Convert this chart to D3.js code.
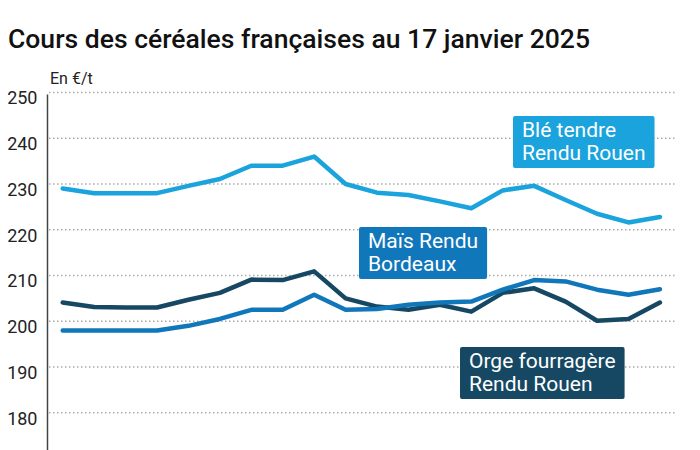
<!DOCTYPE html>
<html><head><meta charset="utf-8">
<script src="https://cdn.jsdelivr.net/npm/d3@7"></script>
<style>body{margin:0;background:#fff;font-family:Roboto,"Noto Sans",sans-serif;}</style>
</head><body><svg id="c" width="700" height="450"></svg>
<script>
const title = "Cours des céréales françaises au 17 janvier 2025";
const unitLabel = "En €/t";
const weeks = d3.range(1, 21);
const ble  = [229,228,228,228,229.6,231.1,234,234,236,230,228.1,227.6,226.2,224.7,228.6,229.6,226.5,223.5,221.6,222.8];
const mais = [198,198,198,198,199,200.5,202.5,202.5,205.8,202.5,202.7,203.6,204.1,204.3,206.9,209,208.7,206.9,205.8,207];
const orge = [204.1,203.1,203,203,204.7,206.2,209.1,209,210.9,205,203.2,202.5,203.6,202.1,206.2,207.2,204.3,200.1,200.5,204.1];
const yTicks = [180,190,200,210,220,230,240,250];
const seriesNames = [["Blé tendre","Rendu Rouen"],["Maïs Rendu","Bordeaux"],["Orge fourragère","Rendu Rouen"]];
const colors = ["#1aa3dd","#1177bb","#164864"];

const svg = d3.select("#c");
const x = d3.scaleLinear().domain([1,20]).range([62.7,659.9]);
const y = d3.scaleLinear().domain([170,250]).range([458.5,92.5]);

svg.append("text").attr("x",8).attr("y",48).attr("font-size",26).attr("font-weight",500)
  .attr("fill","#111").attr("textLength",582).attr("lengthAdjust","spacingAndGlyphs").text(title);
svg.append("text").attr("x",50).attr("y",84).attr("font-size",16).attr("fill","#222").text(unitLabel);

// gridlines
svg.append("g").selectAll("line").data(yTicks).join("line")
  .attr("x1",49).attr("x2",675).attr("y1",d=>y(d)).attr("y2",d=>y(d))
  .attr("stroke","#aaa").attr("stroke-width",1.5).attr("stroke-dasharray","1.5,2.5");

const yAxis = d3.axisLeft(y).tickValues(yTicks).tickSize(0).tickPadding(10);
const ga = svg.append("g").attr("transform","translate(47.5,0)").call(yAxis);
ga.select(".domain").remove();
ga.selectAll("text").attr("font-size",18).attr("fill","#222").attr("font-family","Roboto").attr("dy","0.63em").attr("x",-10);
svg.append("line").attr("x1",47.5).attr("x2",47.5).attr("y1",y(250)+2).attr("y2",450)
  .attr("stroke","#444").attr("stroke-width",1.5);

const line = d3.line().x((d,i)=>x(weeks[i])).y(d=>y(d));
[[orge,2],[mais,1],[ble,0]].forEach(([s,ci])=>{
  svg.append("path").datum(s).attr("d",line).attr("fill","none")
    .attr("stroke",colors[ci]).attr("stroke-width",4.5).attr("stroke-linejoin","round").attr("stroke-linecap","round");
});

// label boxes (annotation positions in pixels)
const labelPos = [[522,137],[368,248],[469,368]];
labelPos.forEach(([tx,ty],i)=>{
  const g = svg.append("g");
  const t = g.append("text").attr("x",tx).attr("y",ty).attr("font-size",21).attr("fill","#fff");
  seriesNames[i].forEach((ln,j)=>t.append("tspan").attr("x",tx).attr("dy", j===0?0:23).text(ln));
  const bb = t.node().getBBox();
  g.insert("rect","text").attr("x",bb.x-9).attr("y",bb.y-2).attr("width",bb.width+18).attr("height",bb.height+5)
    .attr("rx",2).attr("fill",colors[i]);
});
</script></body></html>
